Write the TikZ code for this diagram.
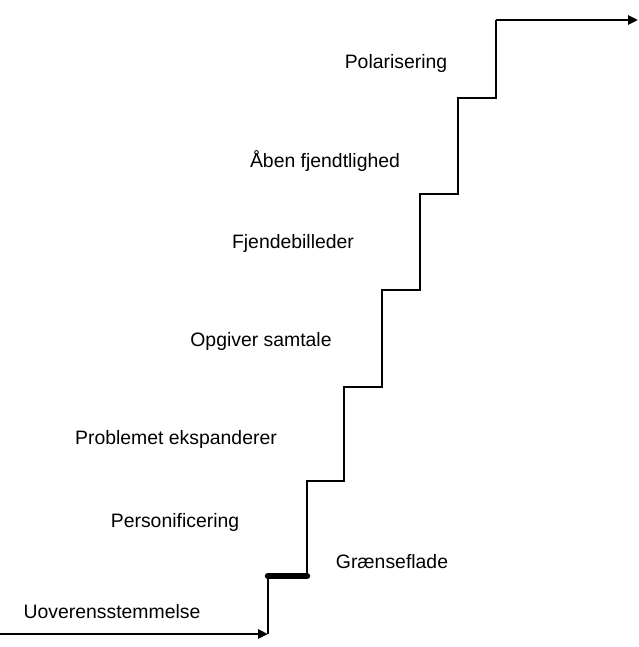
\documentclass[tikz,border=0pt]{standalone}
\usepackage{fontspec}
\setmainfont{Liberation Sans}
\usetikzlibrary{arrows.meta}
\begin{document}
\begin{tikzpicture}[x=1pt,y=-1pt,
  stair/.style={line width=2.7pt,line join=miter},
  lbl/.style={font=\fontsize{19.4pt}{22pt}\selectfont,inner sep=0pt,anchor=center},
  tip/.style={-{Triangle[length=10pt,width=9pt]}}]
\useasboundingbox (0,0) rectangle (638,647);
% stair corners
\coordinate (s0) at (0,634);
\coordinate (a0) at (268,634);
\coordinate (a1) at (268,576);
\coordinate (b0) at (307,576);
\coordinate (b1) at (307,481);
\coordinate (c0) at (344,481);
\coordinate (c1) at (344,387);
\coordinate (d0) at (382,387);
\coordinate (d1) at (382,290);
\coordinate (e0) at (420,290);
\coordinate (e1) at (420,194);
\coordinate (f0) at (458,194);
\coordinate (f1) at (458,98);
\coordinate (g0) at (496,98);
\coordinate (g1) at (496,20);
\coordinate (end) at (638,20);
% labels
\node[lbl] (uo) at (112,612) {Uoverensstemmelse};
\node[lbl] (gr) at (392,562) {Grænseflade};
\node[lbl] (pe) at (175,522) {Personificering};
\node[lbl] (pr) at (176,439) {Problemet ekspanderer};
\node[lbl] (op) at (261,341) {Opgiver samtale};
\node[lbl] (fj) at (293,243) {Fjendebilleder};
\node[lbl] (ab) at (325,161) {Åben fjendtlighed};
\node[lbl] (po) at (396,63) {Polarisering};
% lines
\draw[stair,tip] (s0) -- (a0);
\draw[stair] (a0) -- (a1);
\draw[line width=6.5pt,line cap=round] (a1) -- (b0);
\draw[stair] (b0) -- (b1) -- (c0) -- (c1) -- (d0) -- (d1) -- (e0) -- (e1) -- (f0) -- (f1) -- (g0) -- (g1);
\draw[stair,tip] (g1) -- (end);
\end{tikzpicture}
\end{document}
